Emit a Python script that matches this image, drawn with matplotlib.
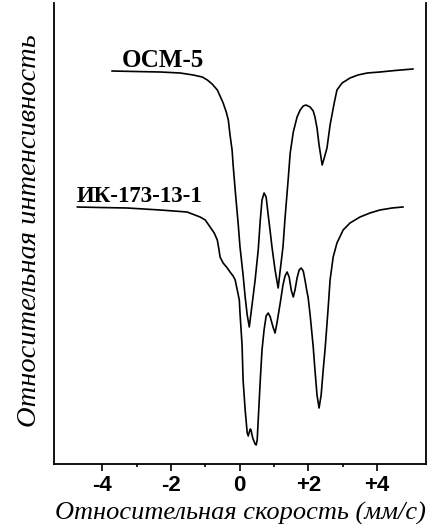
import matplotlib
matplotlib.use("Agg")
import matplotlib.pyplot as plt

# Mossbauer spectra, velocity in mm/s, intensity in arbitrary units (offset curves)
osm_v = [-3.71, -3.04, -2.31, -1.73, -1.35, -1.09, -0.94, -0.80, -0.65, -0.57, -0.48,
         -0.39, -0.33, -0.28, -0.22, -0.19, -0.13, -0.04, 0.01, 0.10, 0.16, 0.22, 0.28,
         0.36, 0.45, 0.54, 0.60, 0.65, 0.71, 0.77, 0.83, 0.89, 0.94, 1.03, 1.12, 1.18,
         1.26, 1.32, 1.41, 1.47, 1.56, 1.67, 1.76, 1.85, 1.93, 2.05, 2.14, 2.19, 2.25,
         2.31, 2.40, 2.46, 2.54, 2.63, 2.75, 2.83, 2.98, 3.21, 3.44, 3.71, 4.08, 4.52, 5.04]
osm_i = [3.93, 3.925, 3.92, 3.91, 3.89, 3.87, 3.84, 3.80, 3.74, 3.68, 3.61,
         3.52, 3.44, 3.29, 3.14, 2.99, 2.74, 2.39, 2.17, 1.89, 1.67, 1.49, 1.37,
         1.59, 1.84, 2.14, 2.44, 2.64, 2.71, 2.67, 2.49, 2.32, 2.17, 1.94, 1.76, 1.94,
         2.17, 2.46, 2.84, 3.11, 3.32, 3.47, 3.54, 3.58, 3.59, 3.57, 3.53, 3.47, 3.36,
         3.19, 2.99, 3.06, 3.16, 3.39, 3.61, 3.74, 3.81, 3.86, 3.89, 3.91, 3.92, 3.935, 3.95]

ik_v = [-4.72, -4.06, -3.27, -2.31, -1.53, -1.15, -1.00, -0.86, -0.74, -0.65, -0.60,
        -0.57, -0.48, -0.36, -0.28, -0.19, -0.13, -0.07, -0.01, 0.01, 0.07, 0.10, 0.16,
        0.22, 0.25, 0.28, 0.31, 0.33, 0.36, 0.39, 0.45, 0.48, 0.51, 0.54, 0.60, 0.65,
        0.71, 0.77, 0.83, 0.89, 0.97, 1.03, 1.09, 1.18, 1.26, 1.32, 1.38, 1.44, 1.50,
        1.56, 1.61, 1.67, 1.73, 1.79, 1.85, 1.90, 1.96, 1.99, 2.05, 2.14, 2.19, 2.25,
        2.31, 2.37, 2.43, 2.49, 2.57, 2.63, 2.72, 2.83, 3.01, 3.21, 3.50, 3.79, 4.08,
        4.43, 4.75]
ik_i = [2.57, 2.565, 2.56, 2.54, 2.52, 2.47, 2.44, 2.37, 2.31, 2.24, 2.14,
        2.07, 2.01, 1.96, 1.92, 1.88, 1.84, 1.74, 1.64, 1.51, 1.19, 0.84, 0.54,
        0.31, 0.28, 0.32, 0.35, 0.34, 0.29, 0.25, 0.20, 0.19, 0.24, 0.44, 0.84, 1.14,
        1.34, 1.48, 1.51, 1.47, 1.37, 1.31, 1.42, 1.61, 1.79, 1.88, 1.92, 1.87, 1.74,
        1.67, 1.74, 1.86, 1.94, 1.96, 1.93, 1.84, 1.72, 1.67, 1.49, 1.17, 0.94, 0.69,
        0.56, 0.69, 0.94, 1.17, 1.54, 1.84, 2.07, 2.21, 2.34, 2.41, 2.47, 2.51, 2.54,
        2.56, 2.57]

names = ["ОСМ-5", "ИК-173-13-1"]
name_pos = [(-2.24, 3.97), (-2.92, 2.62)]
name_sizes = [18, 16.5]
ticks = [-4, -2, 0, 2, 4]
tick_labels = ["-4", "-2", "0", "+2", "+4"]
minor_ticks = [-3, -1, 1, 3]

fig = plt.figure(figsize=(4.38, 5.28), dpi=100)
ax = fig.add_axes([54 / 438, 64 / 528, 372 / 438, 461 / 528])

ax.plot(osm_v, osm_i, color="black", lw=1.2)
ax.plot(ik_v, ik_i, color="black", lw=1.2)

for name, (x, y), fs in zip(names, name_pos, name_sizes):
    ax.text(x, y, name, ha="center", va="baseline", fontsize=fs,
            fontweight="bold", family="Liberation Serif")

ax.set_xlim(-5.4, 5.42)
ax.set_ylim(0, 4.61)
ax.spines["top"].set_visible(False)
for s in ("left", "right", "bottom"):
    ax.spines[s].set_linewidth(1.3)
ax.set_yticks([])
ax.set_xticks(ticks)
ax.set_xticklabels(tick_labels, fontsize=16, fontweight="bold", family="Liberation Sans")
ax.set_xticks(minor_ticks, minor=True)
ax.tick_params(axis="x", which="major", direction="out", length=5, width=1.2, pad=3)
ax.tick_params(axis="x", which="minor", direction="out", length=2.5, width=1.2)

fig.text(0.548, 0.027, "Относительная скорость (мм/с)", ha="center", va="center",
         fontsize=19, style="italic", family="Liberation Serif")
fig.text(0.068, 0.5625, "Относительная интенсивность", ha="center", va="center",
         rotation=90, fontsize=20.5, style="italic", family="Liberation Serif")

fig.savefig("out.png", dpi=100)
